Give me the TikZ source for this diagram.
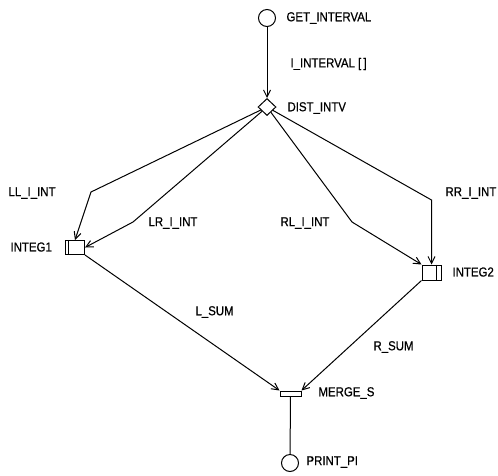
\documentclass[tikz,border=0pt]{standalone}
\usepackage{fontspec}
\setmainfont{Liberation Sans}[FakeStretch=0.88, FakeBold=0.6]
\usetikzlibrary{arrows.meta,shapes.geometric}

\begin{document}
\begin{tikzpicture}[x=1pt, y=-1pt, line width=1pt,
  every node/.style={font=\fontsize{13}{15}\selectfont},
  lbl/.style={anchor=west, inner sep=0pt},
  term/.style={draw, circle, minimum size=17pt, inner sep=0pt},
  distnode/.style={draw, diamond, minimum width=18pt, minimum height=17pt, inner sep=0pt},
  taskbox/.style={draw, rectangle, minimum width=19pt, minimum height=14pt, inner sep=0pt},
  flow/.style={-{Straight Barb[length=7pt,width=7pt]}}]
\useasboundingbox (0,0) rectangle (498,475);

% processes
\node[term] (get) at (267,18) {};
\node[distnode] (dist) at (267,107) {};
\node[taskbox] (integ1) at (75,247.5) {};
\node[taskbox, minimum height=15pt] (integ2) at (431.5,272.5) {};
\node[draw, rectangle, minimum width=21pt, minimum height=5pt, inner sep=0pt] (merge) at (290.5,393.5) {};
\node[term] (print) at (290,463) {};

% double edge of the integrators
\draw ([xshift=3.5pt]integ1.north west) -- ([xshift=3.5pt]integ1.south west);
\draw ([xshift=-5pt]integ2.north east) -- ([xshift=-5pt]integ2.south east);

% names
\node[lbl] (getname) at (286,18) {GET\_INTERVAL};
\node[lbl] (distname) at (287,108) {DIST\_INTV};
\node[lbl] (integ1name) at (10,247) {INTEG1};
\node[lbl] (integ2name) at (452,272) {INTEG2};
\node[lbl] (mergename) at (318,393) {MERGE\_S};
\node[lbl] (printname) at (306,462) {PRINT\_PI};

% channel names
\node[lbl] (ivl) at (290,64) {I\_INTERVAL [\,]};
\node[lbl] (ll) at (8,193) {LL\_I\_INT};
\node[lbl] (lr) at (148,223) {LR\_I\_INT};
\node[lbl] (rl) at (280,223) {RL\_I\_INT};
\node[lbl] (rr) at (445,193) {RR\_I\_INT};
\node[lbl] (lsum) at (195,312) {L\_SUM};
\node[lbl] (rsum) at (373,347) {R\_SUM};

% bends
\coordinate (llbend) at (91,192);
\coordinate (lrbend) at (133,222);
\coordinate (rlbend) at (352,222);
\coordinate (rrbend) at (431.5,200);

% channels
\draw[flow] (get) -- (dist);
\draw[flow] (dist) -- (llbend) -- (integ1.north);
\draw[flow] (dist) -- (lrbend) -- (integ1.east);
\draw[flow] (dist) -- (rlbend) -- (integ2.north west);
\draw[flow] (dist) -- (rrbend) -- (integ2.north);
\draw[flow] (integ1.south east) -- (merge.north west);
\draw[flow] (integ2.south west) -- (merge.north east);
\draw (merge) -- (print);
\end{tikzpicture}
\end{document}
